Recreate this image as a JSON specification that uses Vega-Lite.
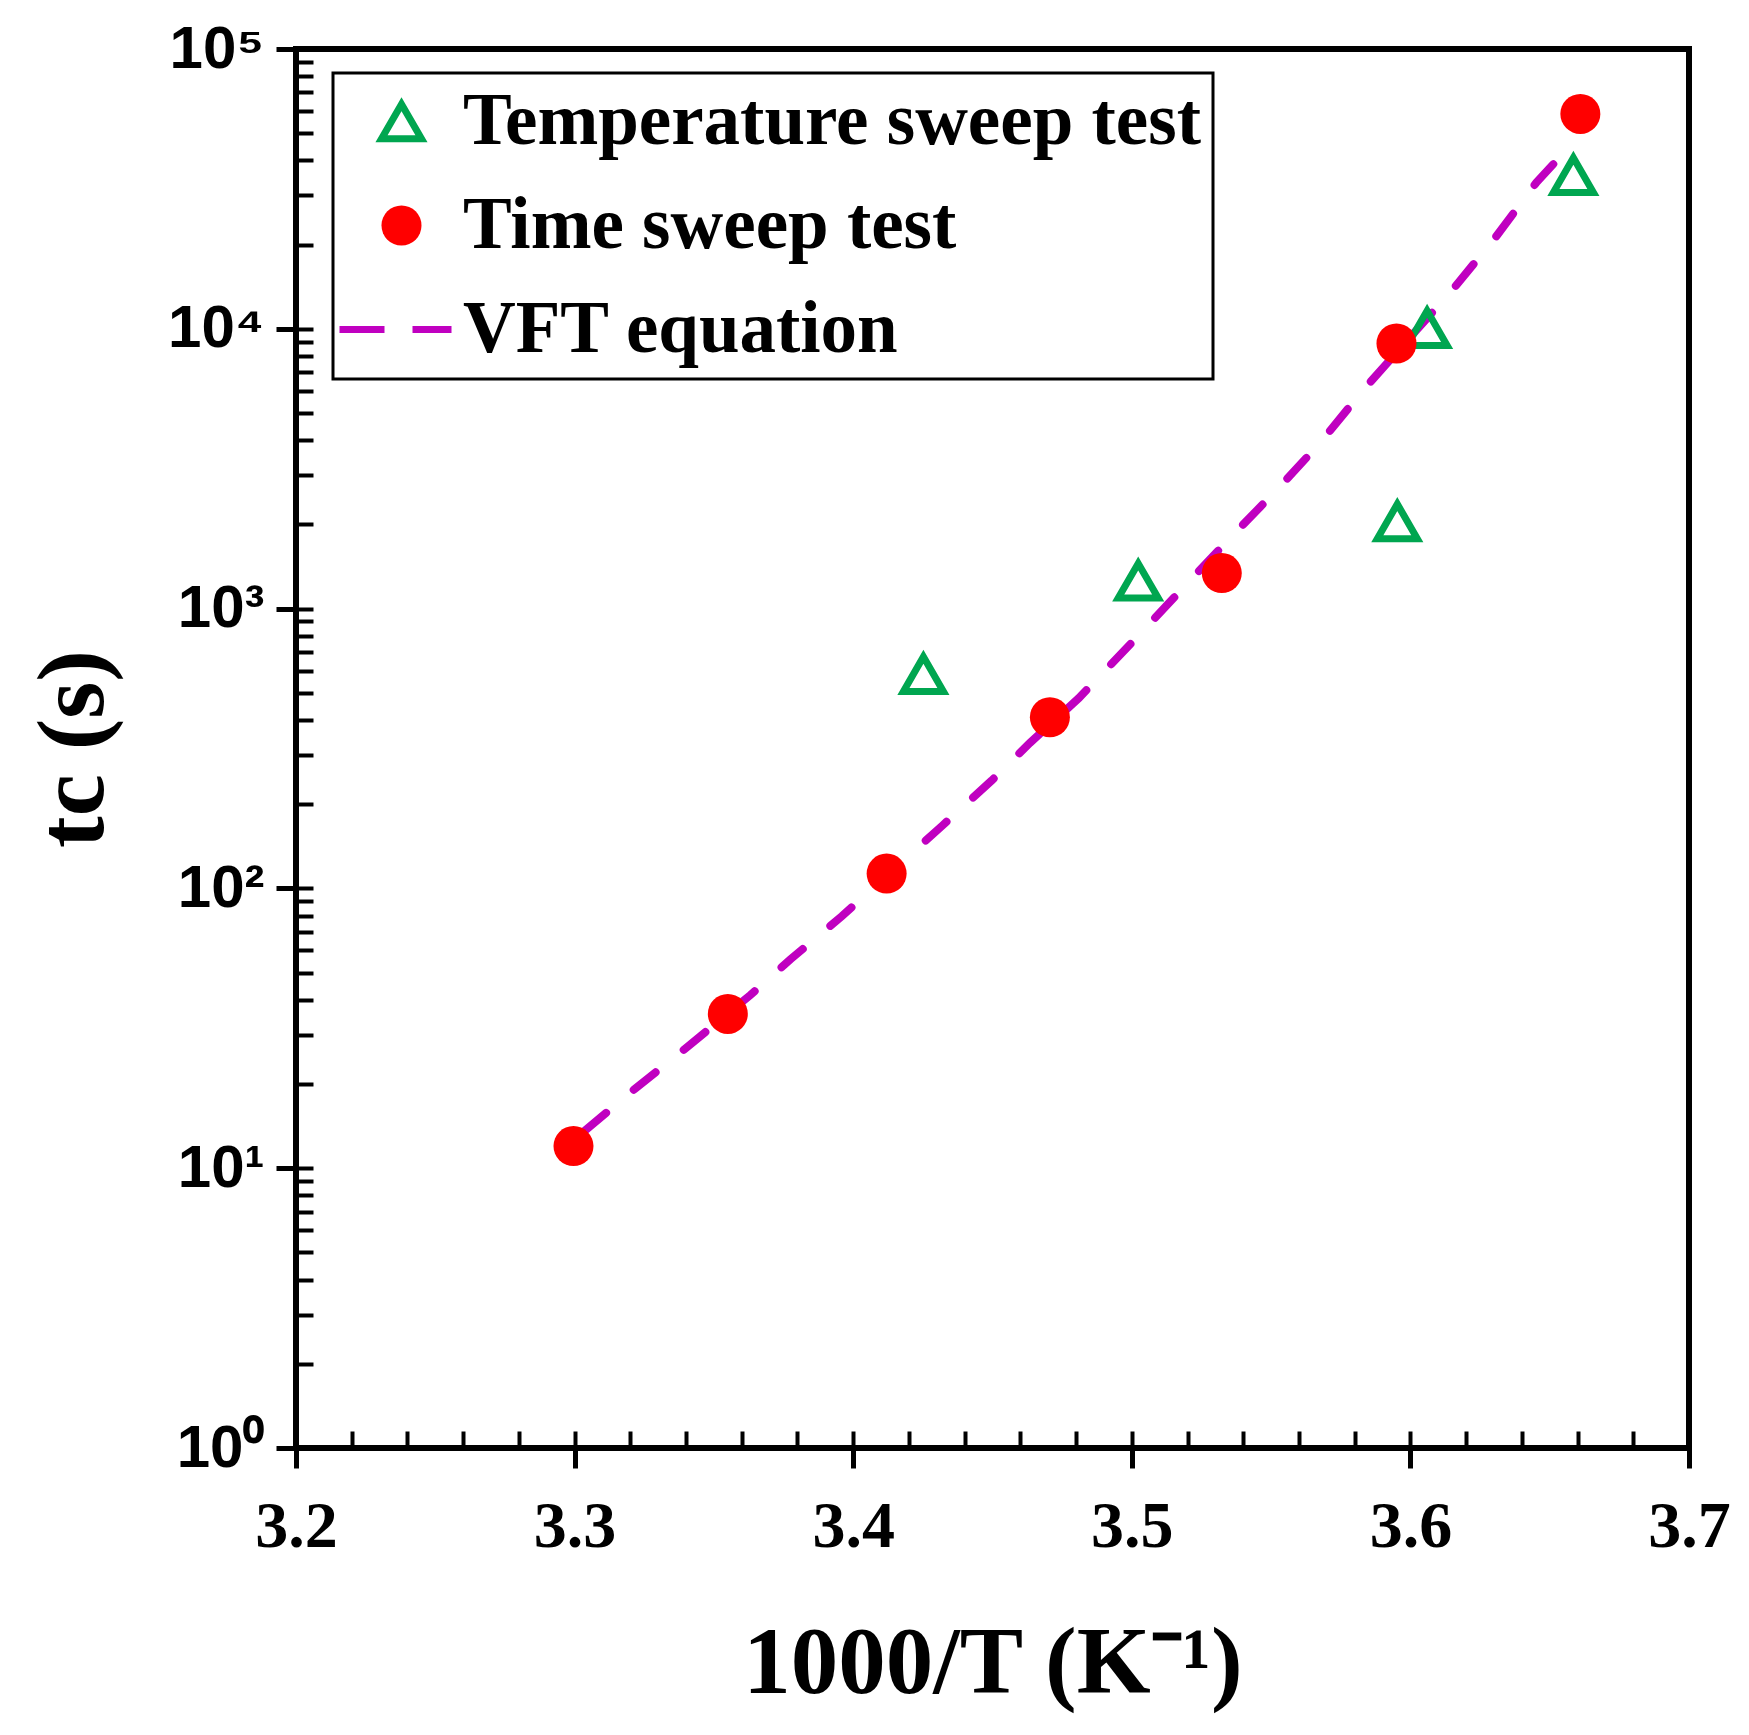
{
  "$schema": "https://vega.github.io/schema/vega-lite/v6.json",
  "width": 1393,
  "height": 1399,
  "autosize": "none",
  "padding": {"left": 296, "top": 49, "right": 60, "bottom": 287},
  "background": "white",
  "datasets": {
    "vft": [
      {"x": 3.3036, "t": 13.6},
      {"x": 3.3213, "t": 19.1},
      {"x": 3.3406, "t": 27.2},
      {"x": 3.363, "t": 41.5},
      {"x": 3.3775, "t": 55.8},
      {"x": 3.3959, "t": 79.5},
      {"x": 3.4321, "t": 168},
      {"x": 3.4497, "t": 243},
      {"x": 3.4634, "t": 331},
      {"x": 3.481, "t": 479},
      {"x": 3.5009, "t": 773},
      {"x": 3.5352, "t": 1786},
      {"x": 3.5518, "t": 2640},
      {"x": 3.5676, "t": 3910},
      {"x": 3.5833, "t": 6080},
      {"x": 3.6157, "t": 14000},
      {"x": 3.6308, "t": 21400},
      {"x": 3.6452, "t": 33300},
      {"x": 3.6596, "t": 47700}
    ],
    "obs": [
      {"series": "Temperature sweep test", "x": 3.4252, "t": 583},
      {"series": "Temperature sweep test", "x": 3.5023, "t": 1258},
      {"series": "Temperature sweep test", "x": 3.5953, "t": 2050},
      {"series": "Temperature sweep test", "x": 3.606, "t": 10050},
      {"series": "Temperature sweep test", "x": 3.6585, "t": 35400},
      {"series": "Time sweep test", "x": 3.2996, "t": 12.0},
      {"series": "Time sweep test", "x": 3.355, "t": 35.6},
      {"series": "Time sweep test", "x": 3.412, "t": 113},
      {"series": "Time sweep test", "x": 3.4706, "t": 409},
      {"series": "Time sweep test", "x": 3.5323, "t": 1340},
      {"series": "Time sweep test", "x": 3.595, "t": 8860},
      {"series": "Time sweep test", "x": 3.661, "t": 58600}
    ]
  },
  "layer": [
    {
      "data": {"name": "vft"},
      "mark": {
        "type": "line",
        "stroke": "#c000c0",
        "strokeWidth": 8,
        "strokeDash": [28, 36],
        "strokeCap": "round"
      },
      "encoding": {
        "x": {
          "field": "x",
          "type": "quantitative",
          "scale": {"domain": [3.2, 3.7], "nice": false, "zero": false},
          "axis": {
            "orient": "bottom",
            "values": [3.2, 3.3, 3.4, 3.5, 3.6, 3.7],
            "format": ".1f",
            "domain": false,
            "grid": false,
            "tickSize": 20,
            "tickWidth": 5,
            "tickColor": "black",
            "labelFont": "Liberation Serif",
            "labelFontWeight": "bold",
            "labelFontSize": 66,
            "labelColor": "black",
            "labelPadding": 26,
            "labelFlush": false,
            "labelOverlap": false,
            "title": "1000/T (K⁻¹)",
            "titleFont": "Liberation Serif",
            "titleFontWeight": "bold",
            "titleFontSize": 95,
            "titleColor": "black",
            "titlePadding": 58
          }
        },
        "y": {
          "field": "t",
          "type": "quantitative",
          "scale": {"type": "log", "domain": [1, 100000], "nice": false},
          "axis": {
            "orient": "left",
            "values": [1, 10, 100, 1000, 10000, 100000],
            "labelExpr": "'10' + ['⁰','¹','²','³','⁴','⁵'][round(log(datum.value) / LN10)]",
            "domain": false,
            "grid": false,
            "tickSize": 20,
            "tickWidth": 5,
            "tickColor": "black",
            "labelFont": "Liberation Sans",
            "labelFontWeight": "bold",
            "labelFontSize": 60,
            "labelColor": "black",
            "labelPadding": 12,
            "labelFlush": false,
            "labelOverlap": false,
            "title": "tc (s)",
            "titleFont": "Liberation Serif",
            "titleFontWeight": "bold",
            "titleFontSize": 95,
            "titleColor": "black",
            "titlePadding": 45
          }
        }
      }
    },
    {
      "data": {"name": "obs"},
      "mark": {"type": "point", "size": 1600, "strokeWidth": 7, "opacity": 1},
      "encoding": {
        "x": {
          "field": "x",
          "type": "quantitative",
          "axis": {
            "orient": "bottom",
            "values": [3.2, 3.22, 3.24, 3.26, 3.28, 3.3, 3.32, 3.34, 3.36, 3.38, 3.4, 3.42, 3.44, 3.46, 3.48, 3.5, 3.52, 3.54, 3.56, 3.58, 3.6, 3.62, 3.64, 3.66, 3.68, 3.7],
            "domain": false,
            "grid": false,
            "labels": false,
            "tickSize": -17,
            "tickWidth": 4,
            "tickColor": "black",
            "title": null
          }
        },
        "y": {
          "field": "t",
          "type": "quantitative",
          "axis": {
            "orient": "left",
            "values": [1, 2, 3, 4, 5, 6, 7, 8, 9, 10, 20, 30, 40, 50, 60, 70, 80, 90, 100, 200, 300, 400, 500, 600, 700, 800, 900, 1000, 2000, 3000, 4000, 5000, 6000, 7000, 8000, 9000, 10000, 20000, 30000, 40000, 50000, 60000, 70000, 80000, 90000, 100000],
            "domain": false,
            "grid": false,
            "labels": false,
            "tickSize": -17,
            "tickWidth": 4,
            "tickColor": "black",
            "title": null
          }
        },
        "shape": {
          "field": "series",
          "type": "nominal",
          "scale": {
            "domain": ["Temperature sweep test", "Time sweep test", "VFT equation"],
            "range": ["triangle-up", "circle", "M-3.1,0H-0.85M0.55,0H2.5"]
          },
          "legend": {"title": null}
        },
        "fill": {
          "field": "series",
          "type": "nominal",
          "scale": {
            "domain": ["Temperature sweep test", "Time sweep test", "VFT equation"],
            "range": ["transparent", "#ff0000", "transparent"]
          },
          "legend": {"title": null}
        },
        "stroke": {
          "field": "series",
          "type": "nominal",
          "scale": {
            "domain": ["Temperature sweep test", "Time sweep test", "VFT equation"],
            "range": ["#00a650", "transparent", "#c000c0"]
          },
          "legend": {"title": null}
        }
      }
    }
  ],
  "resolve": {"axis": {"x": "independent", "y": "independent"}},
  "config": {
    "view": {"stroke": "black", "strokeWidth": 6},
    "legend": {
      "orient": "none",
      "legendX": 37,
      "legendY": 24,
      "padding": 12,
      "strokeColor": "black",
      "strokeWidth": 3,
      "fillColor": "white",
      "labelFont": "Liberation Serif",
      "labelFontWeight": "bold",
      "labelFontSize": 73,
      "labelColor": "black",
      "labelLimit": 0,
      "labelOffset": 25,
      "symbolSize": 1600,
      "symbolStrokeWidth": 7,
      "symbolOffset": 20,
      "rowPadding": 30
    }
  }
}
